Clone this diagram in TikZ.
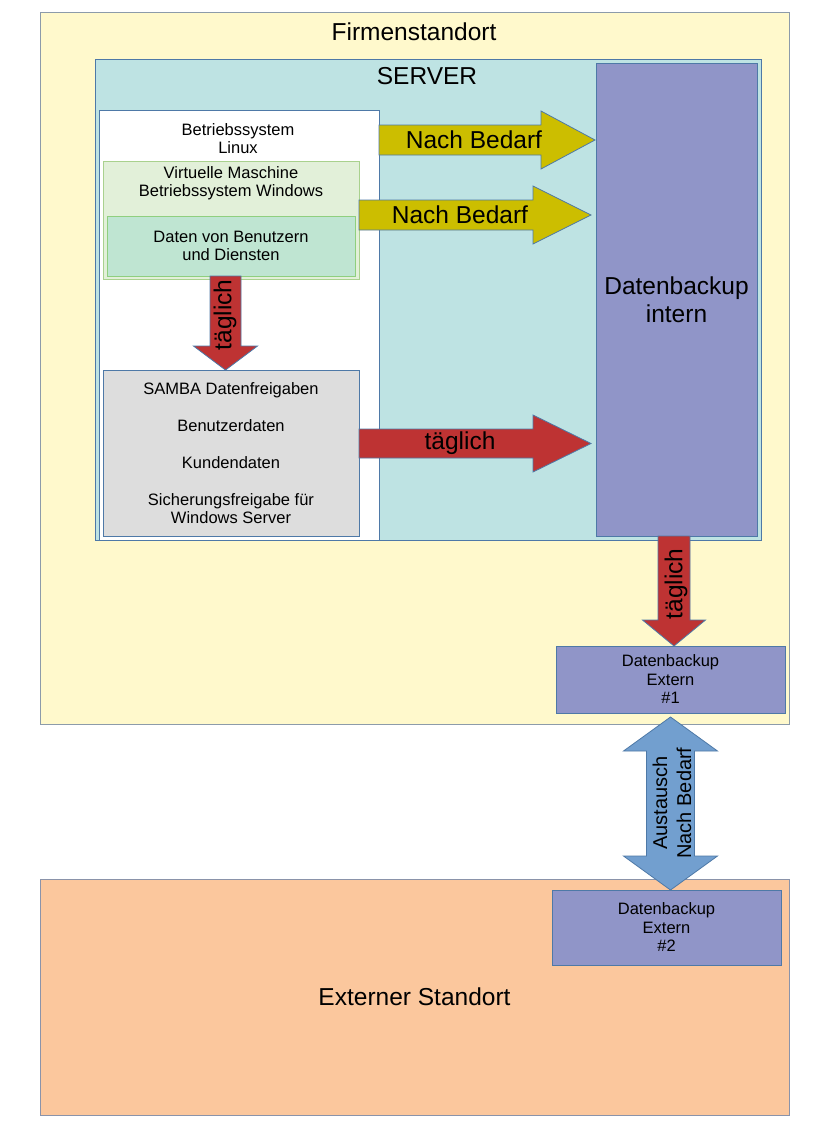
\documentclass[tikz,border=0pt]{standalone}
\usepackage{fontspec}
\setmainfont{Liberation Sans}
\usetikzlibrary{calc}
\definecolor{firmfill}{HTML}{FFF9CC}
\definecolor{firmline}{HTML}{8C9BAA}
\definecolor{serverfill}{HTML}{BEE3E3}
\definecolor{boxline}{HTML}{4E79A7}
\definecolor{internfill}{HTML}{9095C8}
\definecolor{vmfill}{HTML}{E2F0D9}
\definecolor{vmline}{HTML}{A9D18E}
\definecolor{datenfill}{HTML}{BFE5D2}
\definecolor{datenline}{HTML}{8FCF7F}
\definecolor{sambafill}{HTML}{DDDDDD}
\definecolor{yelfill}{HTML}{CCBE00}
\definecolor{redfill}{HTML}{BE3333}
\definecolor{bluefill}{HTML}{729FCF}
\definecolor{extfill}{HTML}{FBC79D}
\definecolor{extline}{HTML}{8A93AA}
\newcommand{\myHArr}[6]{\draw[#6] ($(#1)+(0,-#3)$) -- ($(#2)+(-#5,-#3)$) -- ($(#2)+(-#5,-#4)$) -- (#2) -- ($(#2)+(-#5,#4)$) -- ($(#2)+(-#5,#3)$) -- ($(#1)+(0,#3)$) -- cycle;}
\newcommand{\myVArr}[6]{\draw[#6] ($(#1)+(-#3,0)$) -- ($(#2)+(-#3,-#5)$) -- ($(#2)+(-#4,-#5)$) -- (#2) -- ($(#2)+(#4,-#5)$) -- ($(#2)+(#3,-#5)$) -- ($(#1)+(#3,0)$) -- cycle;}
\begin{document}
\begin{tikzpicture}[x=1pt,y=-1pt,
  box/.style={draw=boxline, anchor=north west, inner sep=0pt, outer sep=0pt, line width=0.8pt, align=center},
  bigtxt/.style={font=\fontsize{24.5}{28}\selectfont, inner sep=0pt, align=center},
  smalltxt/.style={font=\fontsize{16.5}{18.3}\selectfont, inner sep=0pt, align=center},
  midtxt/.style={font=\fontsize{20}{24}\selectfont, inner sep=0pt, align=center},
  arr/.style={draw=boxline, line width=0.8pt, line join=miter}
]
\fill[white] (0,0) rectangle (828,1124);
\useasboundingbox (0,0) rectangle (828,1124);

% Firmenstandort
\node[box, draw=firmline, fill=firmfill, minimum width=749pt, minimum height=712pt] (firm) at (40,12) {};
\node[bigtxt] (firmT) at (414,32) {Firmenstandort};
% Server
\node[box, fill=serverfill, minimum width=666pt, minimum height=481pt] (server) at (95,59) {};
\node[bigtxt] (serverT) at (427,76) {SERVER};
% Datenbackup intern
\node[box, fill=internfill, minimum width=161pt, minimum height=473pt, font=\fontsize{24.5}{28}\selectfont] (intern) at (596,63) {Datenbackup\\intern};
% Linux
\node[box, fill=white, minimum width=280pt, minimum height=430pt] (linux) at (99,110) {};
\node[smalltxt] (linuxT) at (238,138.5) {Betriebssystem\\Linux};
% VM
\node[box, draw=vmline, fill=vmfill, minimum width=256pt, minimum height=118pt] (vm) at (103,161) {};
\node[smalltxt] (vmT) at (231,183) {Virtuelle Maschine\\Betriebssystem Windows};
\node[box, draw=datenline, fill=datenfill, minimum width=248pt, minimum height=60pt, font=\fontsize{16.5}{18.3}\selectfont] (daten) at (107,216) {Daten von Benutzern\\und Diensten};
% SAMBA
\node[box, fill=sambafill, minimum width=256pt, minimum height=166pt] (samba) at (103,370) {};
\node[smalltxt] (sambaT) at (231,453) {SAMBA Datenfreigaben\\[19pt]Benutzerdaten\\[18.5pt]Kundendaten\\[19pt]Sicherungsfreigabe für\\Windows Server};
% Extern 1
\node[box, fill=internfill, minimum width=229pt, minimum height=67pt, font=\fontsize{16.5}{18.5}\selectfont] (ext1) at (556,646) {Datenbackup\\Extern\\\#1};
% Externer Standort
\node[box, draw=extline, fill=extfill, minimum width=749pt, minimum height=236pt, font=\fontsize{24.5}{28}\selectfont] (ext) at (40,879) {Externer Standort};
\node[box, fill=internfill, minimum width=229pt, minimum height=75pt, font=\fontsize{16.5}{18.5}\selectfont] (ext2) at (552,890) {Datenbackup\\Extern\\\#2};

% helper coordinates
\coordinate (y140) at (0,140);
\coordinate (y215) at (0,215);
\coordinate (y443) at (0,443.5);
\coordinate (a1s) at (linux.east |- y140);
\coordinate (a1t0) at (intern.west |- y140);
\coordinate (a1t) at ($(a1t0)+(-1,0)$);
\coordinate (a2s) at (vm.east |- y215);
\coordinate (a2t0) at (intern.west |- y215);
\coordinate (a2t) at ($(a2t0)+(-5,0)$);
\coordinate (a3s) at (samba.east |- y443);
\coordinate (a3t0) at (intern.west |- y443);
\coordinate (a3t) at ($(a3t0)+(-5,0)$);
\coordinate (d1s) at ($(daten.south)+(-5.5,0)$);
\coordinate (d1t) at (d1s |- samba.north);
\coordinate (d2s) at ($(intern.south)+(-2.5,0)$);
\coordinate (d2t) at (d2s |- ext1.north);
\coordinate (bt) at ($(ext1.south)+(0,4)$);
\coordinate (bb) at (bt |- ext2.north);

% arrows
\myHArr{a1s}{a1t}{15}{29}{54}{arr, fill=yelfill}
\node[bigtxt] (a1T) at (474,140) {Nach Bedarf};
\myHArr{a2s}{a2t}{15}{29}{58}{arr, fill=yelfill}
\node[bigtxt] (a2T) at (460,215) {Nach Bedarf};
\myHArr{a3s}{a3t}{14.5}{28.5}{58}{arr, fill=redfill}
\node[bigtxt] (a3T) at (460,443) {täglich};
\myVArr{d1s}{d1t}{15.5}{32}{24}{arr, fill=redfill}
\node[bigtxt, rotate=90] (d1T) at (225,315) {täglich};
\myVArr{d2s}{d2t}{16}{31.5}{26}{arr, fill=redfill}
\node[bigtxt, rotate=90] (d2T) at (676,584) {täglich};
\draw[arr, fill=bluefill] (bt) -- ($(bt)+(47,34)$) -- ($(bt)+(24,34)$) -- ($(bb)+(24,-34)$) -- ($(bb)+(47,-34)$) -- (bb) -- ($(bb)+(-47,-34)$) -- ($(bb)+(-24,-34)$) -- ($(bt)+(-24,34)$) -- ($(bt)+(-47,34)$) -- cycle;
\node[midtxt, rotate=90] (bT) at (672,803) {Austausch\\Nach Bedarf};
\end{tikzpicture}
\end{document}
